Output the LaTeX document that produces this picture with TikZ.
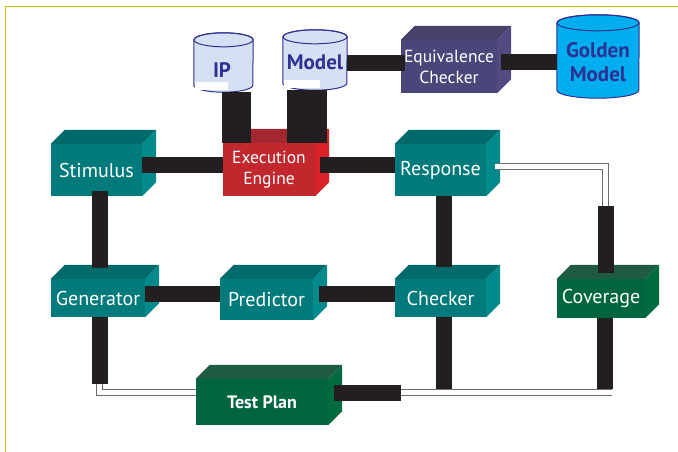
\documentclass[tikz,border=0pt]{standalone}
\usepackage{fontspec}
\setmainfont{PT Sans}
\usetikzlibrary{calc}

\definecolor{tealfront}{HTML}{007A7B}
\definecolor{tealtop}{HTML}{006B6A}
\definecolor{tealside}{HTML}{008A8C}
\definecolor{redfront}{HTML}{C1272D}
\definecolor{redtop}{HTML}{A3272E}
\definecolor{redside}{HTML}{DA2128}
\definecolor{violetfront}{HTML}{4B467A}
\definecolor{violettop}{HTML}{46416B}
\definecolor{violetside}{HTML}{524B82}
\definecolor{greenfront}{HTML}{006640}
\definecolor{greentop}{HTML}{1F5B41}
\definecolor{greenside}{HTML}{006B3E}
\definecolor{barblack}{HTML}{231F20}
\definecolor{drumblue}{HTML}{2E3192}
\definecolor{drumpale}{HTML}{D5E1F2}
\definecolor{drumcyan}{HTML}{00AEEF}
\definecolor{framegold}{HTML}{E6C000}

% front face as a node, top and side faces filled behind it
\newcommand{\cube}[5]{%
  \node[face, fill=#4front, #3] (#1) at (#2) {#5};
  \fill[#4top] (#1.north west) -- ++(14,-14) -- ($(#1.north east)+(14,-14)$) -- (#1.north east) -- cycle;
  \fill[#4side] (#1.north east) -- ++(14,-14) -- ($(#1.south east)+(14,-14)$) -- (#1.south east) -- cycle;
}
% store: name, centre, width, height, cap radius, fill
\newcommand{\drum}[6]{%
  \node[hold, minimum width=#3, minimum height=#4] (#1) at (#2) {};
  \filldraw[drumline, fill=#6] ([yshift=-#5]#1.north west) -- ([yshift=#5]#1.south west)
    arc[start angle=180, end angle=360, x radius=#3/2, y radius=#5]
    -- ([yshift=-#5]#1.north east)
    arc[start angle=0, end angle=180, x radius=#3/2, y radius=#5] -- cycle;
  \draw[drumline] ([yshift=-#5]#1.north) ellipse[x radius=#3/2, y radius=#5];
}

\begin{document}
\begin{tikzpicture}[
    x=1pt, y=-1pt,
    face/.style={rectangle, inner sep=0pt, text=white, align=center,
                 font=\fontsize{20}{22}\selectfont},
    small/.style={font=\fontsize{17.5}{21}\selectfont},
    plain/.style={font=\fontsize{18}{20}\selectfont\bfseries},
    hold/.style={rectangle, inner sep=0pt},
    drumline/.style={draw=drumblue, line width=1pt},
    drumtext/.style={text=drumblue, align=center, font=\fontsize{21}{24}\selectfont\bfseries},
    bar/.style={draw=barblack, line width=16pt},
    pipe/.style={draw=gray!85!black, double=white, line width=1.1pt, double distance=5pt}
  ]
  \useasboundingbox (0,0) rectangle (678,452);
  \draw[framegold, line width=1.6pt] (5.5,452) -- (5.5,6.5) -- (678,6.5);

  % stores
  \drum{ip}{223.5,62.5}{59pt}{59pt}{7pt}{drumpale}
  \drum{model}{315,60}{64pt}{60pt}{7pt}{drumpale}
  \drum{golden}{598,56.5}{82pt}{83pt}{8pt}{drumcyan}
  \fill[white] (195,82) rectangle (228,90);
  \fill[white] (284,80) rectangle (320,88);
  \node[drumtext] (iptext) at (222,70) {IP};
  \node[drumtext] (modeltext) at (315,62) {Model};
  \node[drumtext] (goldentext) at (598,62) {Golden\\Model};

  % blocks
  \cube{equiv}{449,66.5}{minimum width=96pt, minimum height=53pt, small}{violet}{Equivalence\\Checker}
  \cube{stim}{96.5,170}{minimum width=91pt, minimum height=52pt}{teal}{Stimulus}
  \cube{exec}{269,169.5}{minimum width=92pt, minimum height=53pt, small}{red}{Execution\\Engine}
  \cube{resp}{440.5,170}{minimum width=91pt, minimum height=52pt}{teal}{Response}
  \cube{gen}{98,298}{minimum width=94pt, minimum height=38pt}{teal}{Generator}
  \cube{pred}{266.5,299.5}{minimum width=93pt, minimum height=41pt}{teal}{Predictor}
  \cube{chk}{440.5,298}{minimum width=91pt, minimum height=38pt}{teal}{Checker}
  \cube{cov}{601,298.5}{minimum width=88pt, minimum height=39pt}{green}{Coverage}
  \cube{plan}{262,402}{minimum width=132pt, minimum height=46pt, plain}{green}{Test Plan}

  % pipes
  \coordinate (covtap) at (605.5,206);
  \coordinate (gentap) at (99.5,384);
  \coordinate (plantap) at (401,392.5);
  \coordinate (pipeend) at (612,392.5);
  \draw[pipe, shorten <=9pt] ([yshift=3.5pt]resp.east) -| (covtap);
  \draw[pipe] (gentap) |- ([yshift=9.5pt]plan.west);
  \draw[pipe] (plantap) -- (pipeend);

  % links
  \draw[bar, line width=29pt] ([xshift=12.5pt]ip.south) -- ([xshift=12.5pt]ip.south |- exec.north);
  \draw[bar, line width=40pt] ([xshift=-8pt]model.south) -- ([xshift=-8pt]model.south |- exec.north);
  \draw[bar, shorten >=-4pt] ([yshift=-3pt]model.east) -- ([yshift=-3pt]model.east -| equiv.west);
  \draw[bar, shorten <=4pt] ([yshift=4pt]equiv.east) -- ([yshift=4pt]equiv.east -| golden.west);
  \draw[bar] ([yshift=5pt]stim.east) -- ([yshift=4.5pt]exec.west);
  \draw[bar, shorten <=5pt] ([yshift=4.5pt]exec.east) -- ([yshift=5pt]resp.west);
  \draw[bar, shorten <=-5pt, shorten >=11pt] ([xshift=3pt]stim.south) -- ([xshift=1.5pt]gen.north);
  \draw[bar, shorten >=12pt] ([xshift=3pt]resp.south) -- ([xshift=3pt]chk.north);
  \draw[bar] ([yshift=4.5pt]gen.east) -- ([yshift=6pt]pred.west);
  \draw[bar, shorten <=6pt] ([yshift=6pt]pred.east) -- ([yshift=4.5pt]chk.west);
  \draw[bar, shorten >=6pt] (covtap) -- ([xshift=4.5pt]cov.north);
  \draw[bar] ([xshift=1.5pt]gen.south) -- (gentap);
  \draw[bar, shorten <=6pt] ([yshift=9.5pt]plan.east) -- (plantap);
  \draw[bar, shorten >=3.5pt] ([xshift=3pt]chk.south) -- ([xshift=3pt]chk.south |- plantap);
  \draw[bar, shorten >=3.5pt] ([xshift=4pt]cov.south) -- ([xshift=4pt]cov.south |- pipeend);
\end{tikzpicture}
\end{document}
